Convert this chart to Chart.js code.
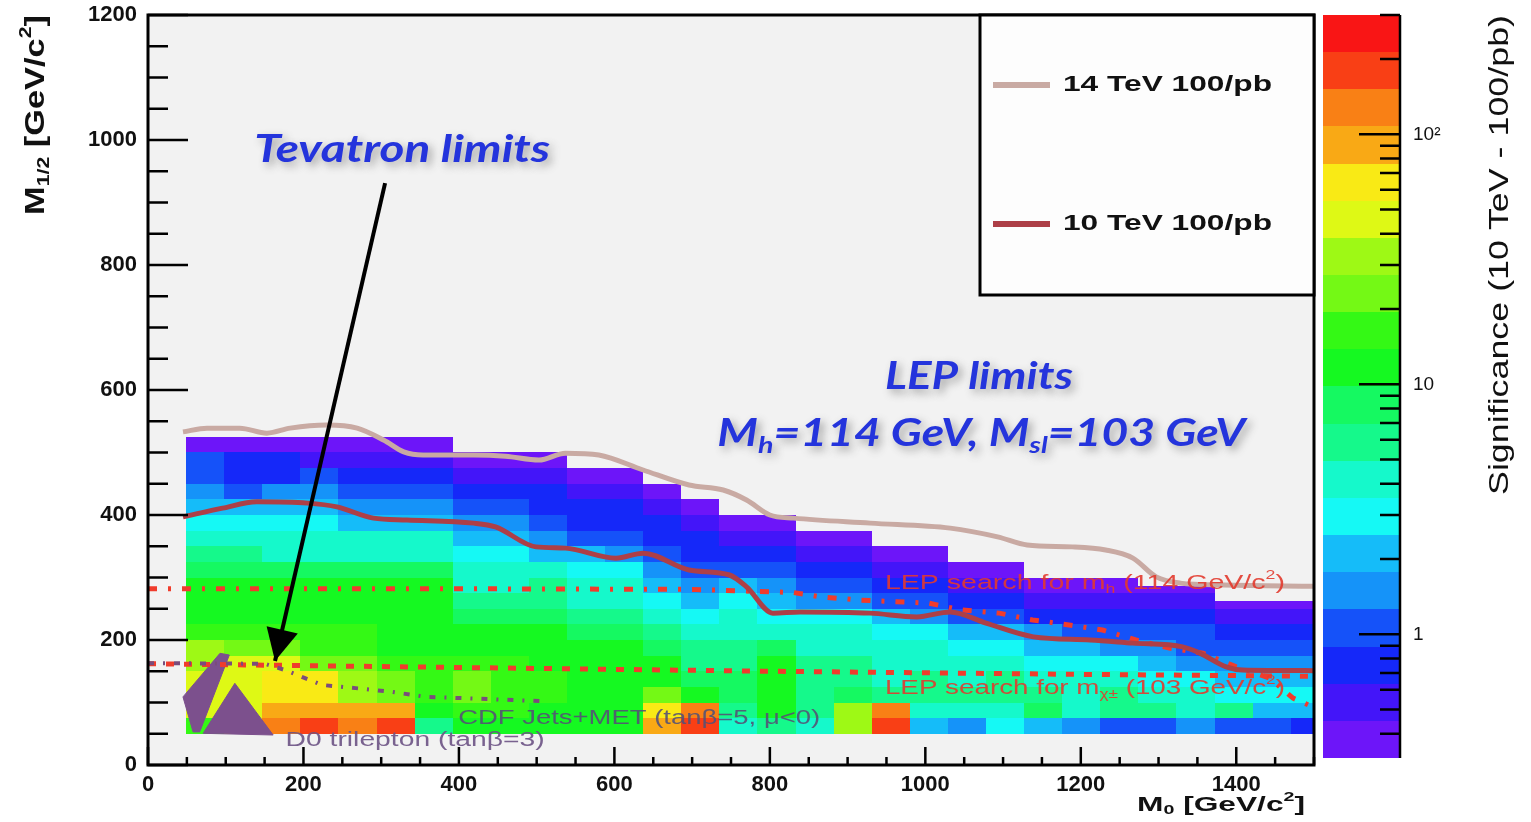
<!DOCTYPE html>
<html>
<head>
<meta charset="utf-8">
<title>SUSY reach: significance map</title>
<script src="https://cdn.jsdelivr.net/npm/chart.js@4.4.0/dist/chart.umd.min.js"></script>
<style>
  html, body { margin: 0; padding: 0; background: #fff; }
  #wrap { width: 1531px; height: 822px; position: relative; }
</style>
</head>
<body>
<div id="wrap"><canvas id="c" width="1531" height="822"></canvas></div>
<script>
// ---- data ----

// histogram binning (lower edges, GeV/c^2)
const xBinLow = [49, 98, 147, 196, 245, 294, 343, 392, 441, 490, 539, 588, 637, 686, 735,
                 784, 833, 882, 931, 980, 1029, 1078, 1127, 1176, 1225, 1274, 1323, 1372, 1421, 1470];
const yBinLow = [50, 75, 100, 125, 150, 175, 200, 225, 250, 275, 300, 325, 350, 375, 400, 425, 450, 475, 500];
const xBinWidth = 49;
const yBinWidth = 25;
// upper edge of the filled region in each column
const colTop = [525, 525, 525, 525, 525, 525, 525, 500, 500, 500, 475, 475, 450, 425, 400,
                400, 375, 375, 350, 350, 325, 325, 300, 300, 300, 287, 287, 262, 262, 262];

// significance per column, lowest M1/2 bin first
const significance = [
  [16.4, 46, 46, 46, 33, 33, 16.4, 11.7, 11.7, 11.7, 8.3, 5.9, 4.2, 3, 2.1, 1.5, 1.06, 1.06, 0.38],
  [46, 46, 46, 46, 46, 23, 16.4, 11.7, 11.7, 11.7, 8.3, 5.9, 4.2, 3, 2.1, 1.06, 0.75, 0.75, 0.38],
  [128, 91, 65, 65, 46, 23, 16.4, 11.7, 11.7, 11.7, 8.3, 4.2, 4.2, 3, 2.1, 1.5, 0.75, 0.75, 0.38],
  [181, 91, 65, 65, 23, 16.4, 16.4, 11.7, 11.7, 11.7, 8.3, 4.2, 4.2, 3, 2.1, 1.5, 1.06, 0.54, 0.38],
  [128, 91, 33, 33, 23, 16.4, 16.4, 11.7, 11.7, 11.7, 8.3, 4.2, 4.2, 2.1, 1.5, 1.06, 0.75, 0.54, 0.38],
  [181, 91, 23, 23, 16.4, 11.7, 11.7, 11.7, 11.7, 11.7, 8.3, 4.2, 4.2, 2.1, 1.5, 1.06, 0.75, 0.54, 0.38],
  [5.9, 11.7, 16.4, 16.4, 16.4, 11.7, 11.7, 11.7, 11.7, 11.7, 8.3, 4.2, 4.2, 2.1, 1.5, 1.06, 0.75, 0.54, 0.38],
  [11.7, 16.4, 23, 23, 16.4, 11.7, 11.7, 8.3, 5.9, 4.2, 4.2, 3, 2.1, 1.5, 1.06, 0.75, 0.54, 0.38],
  [11.7, 16.4, 16.4, 16.4, 16.4, 11.7, 11.7, 8.3, 5.9, 4.2, 4.2, 3, 2.1, 1.5, 1.06, 0.75, 0.54, 0.38],
  [11.7, 11.7, 16.4, 16.4, 11.7, 11.7, 11.7, 8.3, 5.9, 5.9, 4.2, 2.1, 1.5, 1.06, 0.75, 0.75, 0.54, 0.38],
  [11.7, 11.7, 11.7, 11.7, 11.7, 11.7, 8.3, 5.9, 4.2, 4.2, 3, 2.1, 1.06, 0.75, 0.75, 0.54, 0.38],
  [11.7, 11.7, 11.7, 11.7, 11.7, 11.7, 8.3, 5.9, 4.2, 4.2, 3, 1.5, 1.06, 0.75, 0.75, 0.54, 0.38],
  [91, 65, 23, 11.7, 11.7, 8.3, 5.9, 4.2, 3, 2.1, 1.5, 1.06, 0.75, 0.75, 0.54, 0.38],
  [181, 128, 11.7, 8.3, 5.9, 5.9, 4.2, 3, 2.1, 1.5, 1.06, 0.75, 0.75, 0.54, 0.38],
  [4.2, 5.9, 8.3, 8.3, 5.9, 5.9, 4.2, 4.2, 3, 2.1, 1.06, 0.75, 0.54, 0.38],
  [5.9, 11.7, 11.7, 11.7, 11.7, 8.3, 4.2, 3, 2.1, 1.5, 1.06, 0.75, 0.54, 0.38],
  [4.2, 5.9, 5.9, 5.9, 5.9, 4.2, 4.2, 3, 1.5, 1.06, 0.75, 0.54, 0.38],
  [33, 33, 8.3, 5.9, 5.9, 4.2, 4.2, 3, 1.5, 1.06, 0.75, 0.54, 0.38],
  [181, 128, 5.9, 4.2, 4.2, 4.2, 3, 2.1, 1.06, 0.75, 0.54, 0.38],
  [2.1, 4.2, 5.9, 5.9, 4.2, 4.2, 3, 1.5, 1.06, 0.75, 0.54, 0.38],
  [1.5, 4.2, 5.9, 4.2, 4.2, 3, 2.1, 1.06, 0.75, 0.54, 0.38],
  [3, 4.2, 5.9, 5.9, 4.2, 3, 2.1, 1.06, 0.75, 0.54, 0.38],
  [2.1, 8.3, 5.9, 4.2, 3, 2.1, 1.5, 0.75, 0.54, 0.38],
  [1.5, 4.2, 4.2, 4.2, 3, 2.1, 1.06, 0.75, 0.54, 0.38],
  [1.06, 5.9, 5.9, 4.2, 3, 1.5, 1.06, 0.75, 0.54, 0.38],
  [1.06, 5.9, 4.2, 3, 2.1, 1.5, 1.06, 0.75, 0.54, 0.38],
  [1.5, 4.2, 4.2, 3, 1.5, 1.06, 1.06, 0.75, 0.54, 0.38],
  [1.06, 5.9, 3, 2.1, 1.5, 1.06, 0.75, 0.54, 0.38],
  [1.06, 2.1, 3, 2.1, 1.5, 1.06, 0.75, 0.54, 0.38],
  [0.75, 2.1, 3, 2.1, 1.5, 1.06, 0.75, 0.54, 0.38]
];

// colour scale range and ticks
const zMin = 0.32;
const zMax = 300;
const zTicks = [1, 10, 100];
const zTickLabels = ['1', '10', '10\u00b2'];
const zMinorTicks = [0.4, 0.5, 0.6, 0.7, 0.8, 0.9, 2, 3, 4, 5, 6, 7, 8, 9,
                     20, 30, 40, 50, 60, 70, 80, 90, 200, 300];

const xTickValues = [0, 200, 400, 600, 800, 1000, 1200, 1400];
const yTickValues = [0, 200, 400, 600, 800, 1000, 1200];

// 5 sigma reach contours
const curve14TeV = [
  {x:45,y:533},{x:76,y:539},{x:118,y:539},{x:153,y:531},{x:183,y:539},{x:230,y:544},{x:269,y:539},
  {x:303,y:520},{x:329,y:501},{x:354,y:496},{x:419,y:496},{x:460,y:494},{x:503,y:488},{x:537,y:499},
  {x:580,y:496},{x:637,y:472},{x:696,y:448},{x:740,y:440},{x:770,y:424},{x:800,y:400},{x:831,y:395},
  {x:929,y:387},{x:1032,y:379},{x:1093,y:365},{x:1131,y:352},{x:1189,y:349},{x:1232,y:344},
  {x:1267,y:331},{x:1297,y:301},{x:1328,y:291},{x:1384,y:288},{x:1500,y:286}
];
const curve10TeV = [
  {x:45,y:397},{x:96,y:411},{x:140,y:421},{x:205,y:419},{x:243,y:413},{x:290,y:395},{x:333,y:392},
  {x:419,y:387},{x:447,y:381},{x:499,y:349},{x:537,y:347},{x:602,y:331},{x:637,y:339},{x:696,y:312},
  {x:748,y:304},{x:770,y:285},{x:804,y:243},{x:839,y:245},{x:929,y:243},{x:989,y:237},{x:1032,y:245},
  {x:1078,y:227},{x:1139,y:205},{x:1212,y:200},{x:1267,y:195},{x:1331,y:189},{x:1353,y:179},
  {x:1387,y:157},{x:1408,y:152},{x:1500,y:151}
];

// existing limits
const lepHiggs = [
  {x:0,y:282},{x:400,y:282},{x:700,y:281},{x:830,y:276},{x:866,y:269},{x:914,y:264},{x:1004,y:259},
  {x:1047,y:248},{x:1095,y:243},{x:1138,y:232},{x:1185,y:224},{x:1228,y:216},{x:1271,y:200},
  {x:1314,y:187},{x:1357,y:179},{x:1400,y:157},{x:1443,y:139},{x:1473,y:107},{x:1500,y:92}
];
const lepChargino = [{x:0,y:162},{x:400,y:156},{x:800,y:150},{x:1200,y:145},{x:1500,y:142}];
const cdfJetsMet = [
  {x:0,y:163},{x:150,y:162},{x:176,y:152},{x:202,y:139},{x:224,y:128},{x:267,y:123},
  {x:314,y:117},{x:357,y:109},{x:405,y:107},{x:510,y:102}
];
const d0RegionA = [{x:92.6,y:178.7},{x:104.6,y:176},{x:66.5,y:53},{x:58,y:53},{x:45,y:109},{x:92.6,y:178.7}];
const d0RegionB = [{x:111.7,y:130.7},{x:71,y:50.7},{x:161,y:48},{x:111.7,y:130.7}];

// arrow from the "Tevatron limits" note down to the Tevatron region
const arrowPath = [{x:305,y:931},{x:163.4,y:166.4}];

// ---- look ----
const ROOT_FONT = "'Liberation Sans', Arial, Helvetica, sans-serif";
const NOTE_FONT = "Lato, 'Open Sans', sans-serif";
const paletteHues = [263, 252, 235, 224, 207, 196, 179, 168, 151, 140, 123, 112, 95, 84, 67, 56, 39, 28, 11, 0];
const palette = paletteHues.map(h => `hsl(${h}, 95%, 53%)`);
const nBands = palette.length;
const bandLog = Math.log10(zMax / zMin) / nBands;

function zColor(z){
  let k = Math.floor(Math.log10(z / zMin) / bandLog);
  if(k < 0) k = 0;
  if(k > nBands - 1) k = nBands - 1;
  return palette[k];
}

// rich text: segments {t, sub, sup}, optional stretch to a target width
function fontStr(o, size){
  return `${o.italic ? 'italic ' : ''}${o.weight || 'normal'} ${size}px ${o.family}`;
}
function drawRich(ctx, segs, x, y, o){
  ctx.save();
  ctx.translate(x, y);
  if(o.rotate) ctx.rotate(o.rotate);
  let nat = 0;
  for(const s of segs){
    ctx.font = fontStr(o, (s.sub || s.sup) ? o.size * 0.62 : o.size);
    nat += ctx.measureText(s.t).width;
  }
  const sx = o.width ? o.width / nat : 1;
  const total = nat * sx;
  let start = 0;
  if(o.align === 'center') start = -total / 2;
  else if(o.align === 'right') start = -total;
  ctx.scale(sx, 1);
  let cx = start / sx;
  ctx.textBaseline = 'middle';
  ctx.textAlign = 'left';
  ctx.fillStyle = o.color;
  if(o.shadow){
    ctx.shadowColor = 'rgba(70,70,70,0.45)';
    ctx.shadowBlur = 9;
    ctx.shadowOffsetX = 4;
    ctx.shadowOffsetY = 4;
  }
  for(const s of segs){
    const sz = (s.sub || s.sup) ? o.size * 0.62 : o.size;
    ctx.font = fontStr(o, sz);
    const dy = s.sub ? o.size * 0.3 : (s.sup ? -o.size * 0.36 : 0);
    ctx.fillText(s.t, cx, dy);
    cx += ctx.measureText(s.t).width;
  }
  ctx.restore();
}

// notes placed in data coordinates
const blueNote = {family: NOTE_FONT, weight: 'bold', italic: true, size: 38, color: '#2434dc', align: 'center', shadow: true};
const notes = [
  {segs: [{t:'Tevatron limits'}], x: 327, y: 984, o: Object.assign({}, blueNote, {width: 296})},
  {segs: [{t:'LEP limits'}], x: 1069, y: 621, o: Object.assign({}, blueNote, {width: 188})},
  {segs: [{t:'M'},{t:'h',sub:1},{t:'=114 GeV, M'},{t:'sl',sub:1},{t:'=103 GeV'}], x: 1072, y: 530,
   o: Object.assign({}, blueNote, {width: 528})},
  {segs: [{t:'LEP search for m'},{t:'h',sub:1},{t:' (114 GeV/c'},{t:'2',sup:1},{t:')'}], x: 948, y: 291,
   o: {family: ROOT_FONT, size: 20, color: 'rgba(226,58,46,0.9)', align: 'left', width: 400}},
  {segs: [{t:'LEP search for m'},{t:'\u03c7\u00b1',sub:1},{t:' (103 GeV/c'},{t:'2',sup:1},{t:')'}], x: 948, y: 123,
   o: {family: ROOT_FONT, size: 20, color: 'rgba(226,58,46,0.9)', align: 'left', width: 400}},
  {segs: [{t:'CDF Jets+MET (tan\u03b2=5, \u03bc<0)'}], x: 399, y: 74,
   o: {family: ROOT_FONT, size: 20, color: 'rgba(84,82,118,0.9)', align: 'left', width: 362}},
  {segs: [{t:'D0 trilepton (tan\u03b2=3)'}], x: 177, y: 40,
   o: {family: ROOT_FONT, size: 20, color: 'rgba(108,82,132,0.9)', align: 'left', width: 259}}
];

// ---- plugins ----
const backgroundPlugin = {
  id: 'background',
  beforeDraw(chart){
    const {ctx, chartArea: a} = chart;
    ctx.save();
    ctx.fillStyle = '#ffffff';
    ctx.fillRect(0, 0, chart.width, chart.height);
    ctx.fillStyle = '#f2f2f2';
    ctx.fillRect(a.left, a.top, a.width, a.height);
    ctx.restore();
  }
};

const heatmapPlugin = {
  id: 'heatmap',
  beforeDatasetsDraw(chart){
    const {ctx, chartArea: a, scales: {x, y}} = chart;
    ctx.save();
    ctx.beginPath();
    ctx.rect(a.left, a.top, a.width, a.height);
    ctx.clip();
    significance.forEach((col, i) => {
      const x0 = Math.round(x.getPixelForValue(xBinLow[i]));
      const x1 = Math.round(x.getPixelForValue(xBinLow[i] + xBinWidth));
      col.forEach((z, j) => {
        const lo = yBinLow[j];
        const hi = Math.min(lo + yBinWidth, colTop[i]);
        const y0 = Math.round(y.getPixelForValue(lo));
        const y1 = Math.round(y.getPixelForValue(hi));
        ctx.fillStyle = zColor(z);
        ctx.fillRect(x0, y1, x1 - x0, y0 - y1);
      });
    });
    ctx.restore();
  }
};

const decorPlugin = {
  id: 'decor',
  afterDatasetsDraw(chart){
    const {ctx, chartArea: a, scales: {x, y, z}} = chart;
    ctx.save();

    // frame and inward ticks
    ctx.strokeStyle = '#000';
    ctx.lineWidth = 2.5;
    ctx.beginPath();
    for(let v = 0; v <= 1500; v += 50){
      const px = x.getPixelForValue(v);
      const len = v % 200 === 0 ? 18 : 8;
      ctx.moveTo(px, a.bottom); ctx.lineTo(px, a.bottom - len);
    }
    for(let v = 0; v <= 1200; v += 50){
      const py = y.getPixelForValue(v);
      const len = v % 200 === 0 ? 40 : 20;
      ctx.moveTo(a.left, py); ctx.lineTo(a.left + len, py);
    }
    ctx.stroke();
    ctx.lineWidth = 3;
    ctx.strokeRect(a.left, a.top, a.width, a.height);

    // notes
    for(const n of notes){
      drawRich(ctx, n.segs, x.getPixelForValue(n.x), y.getPixelForValue(n.y), n.o);
    }

    // arrow head on the arrow dataset
    const arrowIdx = chart.data.datasets.findIndex(d => d.label === 'arrow');
    const pts = chart.getDatasetMeta(arrowIdx).data;
    if(pts.length > 1){
      const p0 = pts[pts.length - 2], p1 = pts[pts.length - 1];
      const ang = Math.atan2(p1.y - p0.y, p1.x - p0.x);
      const L = 32, W = 16;
      ctx.fillStyle = '#000';
      ctx.beginPath();
      ctx.moveTo(p1.x, p1.y);
      ctx.lineTo(p1.x - L * Math.cos(ang) + W * Math.sin(ang), p1.y - L * Math.sin(ang) - W * Math.cos(ang));
      ctx.lineTo(p1.x - L * Math.cos(ang) - W * Math.sin(ang), p1.y - L * Math.sin(ang) + W * Math.cos(ang));
      ctx.closePath();
      ctx.fill();
    }

    // legend box
    const bx0 = a.right - 334, by0 = a.top, bx1 = a.right, by1 = a.top + 280;
    ctx.fillStyle = '#fdfdfd';
    ctx.fillRect(bx0, by0, bx1 - bx0, by1 - by0);
    ctx.strokeStyle = '#000';
    ctx.lineWidth = 3;
    ctx.strokeRect(bx0, by0, bx1 - bx0, by1 - by0);
    const legendRows = ['14 TeV 100/pb', '10 TeV 100/pb'];
    legendRows.forEach((lab, i) => {
      const ds = chart.data.datasets.find(d => d.label === lab);
      const ly = by0 + 70 + i * 139;
      ctx.strokeStyle = ds.borderColor;
      ctx.lineWidth = 6;
      ctx.beginPath();
      ctx.moveTo(bx0 + 13, ly); ctx.lineTo(bx0 + 70, ly);
      ctx.stroke();
      drawRich(ctx, [{t: lab}], bx0 + 83, ly, {family: ROOT_FONT, weight: 'bold', size: 22, color: '#111', align: 'left', width: 209});
    });

    // colour bar
    const cx0 = a.right + 9, cx1 = a.right + 86;
    for(let k = 0; k < nBands; k++){
      const lo = zMin * Math.pow(10, k * bandLog);
      const hi = zMin * Math.pow(10, (k + 1) * bandLog);
      const yl = Math.round(z.getPixelForValue(lo));
      const yh = Math.round(z.getPixelForValue(hi));
      ctx.fillStyle = palette[k];
      ctx.fillRect(cx0, yh, cx1 - cx0, yl - yh);
    }
    ctx.strokeStyle = '#000';
    ctx.lineWidth = 2.5;
    ctx.beginPath();
    ctx.moveTo(cx1, z.getPixelForValue(zMin)); ctx.lineTo(cx1, z.getPixelForValue(zMax));
    for(const v of zTicks){
      const py = z.getPixelForValue(v);
      ctx.moveTo(cx1, py); ctx.lineTo(cx1 - 41, py);
    }
    for(const v of zMinorTicks){
      const py = z.getPixelForValue(v);
      ctx.moveTo(cx1, py); ctx.lineTo(cx1 - 20, py);
    }
    ctx.stroke();

    // axis titles
    drawRich(ctx, [{t:'M'},{t:'1/2',sub:1},{t:' [GeV/c'},{t:'2',sup:1},{t:']'}], 36, a.top + 200,
      {family: ROOT_FONT, weight: 'bold', size: 28, color: '#111', align: 'left', width: 200, rotate: -Math.PI / 2});
    drawRich(ctx, [{t:'M'},{t:'0',sub:1},{t:' [GeV/c'},{t:'2',sup:1},{t:']'}], a.right - 9, a.bottom + 40,
      {family: ROOT_FONT, weight: 'bold', size: 20, color: '#111', align: 'right', width: 168});
    drawRich(ctx, [{t:'Significance (10 TeV - 100/pb)'}], a.right + 186, a.top + 480,
      {family: ROOT_FONT, size: 28, color: '#111', align: 'left', width: 480, rotate: -Math.PI / 2});

    ctx.restore();
  }
};

// keep scale label paddings from eating into the plot area
function noEdgePadding(s){
  s.paddingTop = 0; s.paddingBottom = 0; s.paddingLeft = 0; s.paddingRight = 0;
}

// ---- chart ----
const lineBase = {pointRadius: 0, fill: false, borderCapStyle: 'butt'};

new Chart(document.getElementById('c'), {
  type: 'line',
  data: {
    datasets: [
      Object.assign({label: 'arrow', data: arrowPath, borderColor: '#000', borderWidth: 4}, lineBase),
      Object.assign({label: '10 TeV 100/pb', data: curve10TeV, borderColor: '#ad3f47', borderWidth: 5,
        cubicInterpolationMode: 'monotone'}, lineBase),
      Object.assign({label: '14 TeV 100/pb', data: curve14TeV, borderColor: '#c9aaa3', borderWidth: 5,
        cubicInterpolationMode: 'monotone'}, lineBase),
      Object.assign({label: 'CDF Jets+MET', data: cdfJetsMet, borderColor: '#7a4c7c', borderWidth: 4,
        borderDash: [6, 9, 2, 9]}, lineBase),
      Object.assign({label: 'LEP chargino', data: lepChargino, borderColor: '#f03c2c', borderWidth: 5,
        borderDash: [8, 10]}, lineBase),
      Object.assign({label: 'LEP higgs', data: lepHiggs, borderColor: '#f03c2c', borderWidth: 5,
        borderDash: [9, 11, 3, 11]}, lineBase),
      {label: 'D0 trilepton A', data: d0RegionA, borderColor: '#7c508d', backgroundColor: '#7c508d',
        borderWidth: 1, pointRadius: 0, fill: 'shape', tension: 0},
      {label: 'D0 trilepton B', data: d0RegionB, borderColor: '#7c508d', backgroundColor: '#7c508d',
        borderWidth: 1, pointRadius: 0, fill: 'shape', tension: 0}
    ]
  },
  options: {
    responsive: false,
    animation: false,
    events: [],
    layout: {padding: {top: 15, left: 0, right: 0, bottom: 0}},
    plugins: {legend: {display: false}, tooltip: {enabled: false}, title: {display: false}},
    scales: {
      x: {
        type: 'linear', min: 0, max: 1500,
        afterBuildTicks: s => { s.ticks = xTickValues.map(v => ({value: v})); },
        afterFit: s => { s.height = 57; noEdgePadding(s); },
        grid: {display: false, drawTicks: false},
        border: {display: false},
        ticks: {padding: 7, color: '#111', autoSkip: false, maxRotation: 0,
          font: {family: ROOT_FONT, size: 22, weight: 'bold'}, callback: v => String(v)}
      },
      y: {
        type: 'linear', min: 0, max: 1200,
        afterBuildTicks: s => { s.ticks = yTickValues.map(v => ({value: v})); },
        afterFit: s => { s.width = 148; noEdgePadding(s); },
        grid: {display: false, drawTicks: false},
        border: {display: false},
        ticks: {padding: 11, color: '#111', autoSkip: false,
          font: {family: ROOT_FONT, size: 22, weight: 'bold'}, callback: v => String(v)}
      },
      z: {
        type: 'logarithmic', position: 'right', min: zMin, max: zMax,
        afterBuildTicks: s => { s.ticks = zTicks.map(v => ({value: v})); },
        afterFit: s => { s.width = 217; noEdgePadding(s); },
        grid: {display: false, drawTicks: false},
        border: {display: false},
        ticks: {padding: 99, color: '#111', autoSkip: false,
          font: {family: ROOT_FONT, size: 19}, callback: (v, i) => zTickLabels[i]}
      }
    }
  },
  plugins: [backgroundPlugin, heatmapPlugin, decorPlugin]
});
</script>
</body>
</html>
